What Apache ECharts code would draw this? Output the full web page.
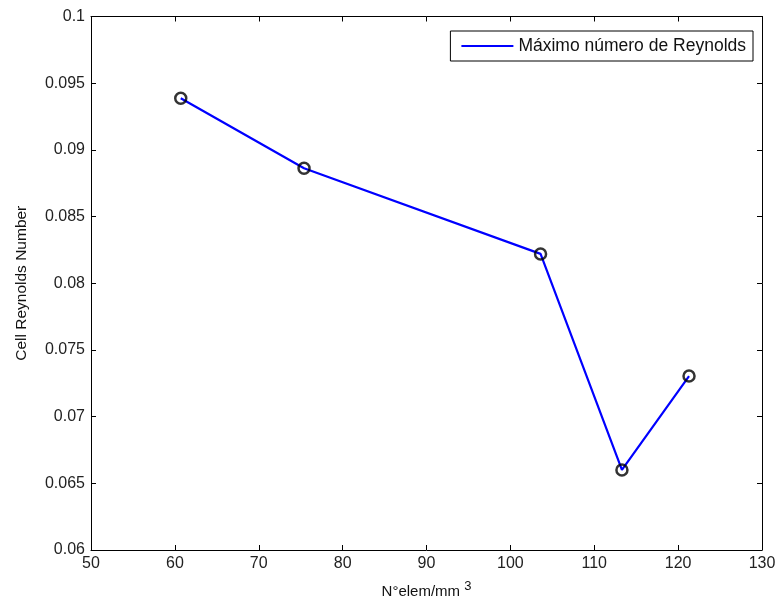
<!DOCTYPE html>
<html>
<head>
<meta charset="utf-8">
<script src="https://cdn.jsdelivr.net/npm/echarts@6/dist/echarts.min.js"></script>
<style>
  html, body { margin: 0; padding: 0; background: #fff; }
  #chart { width: 780px; height: 606px; }
</style>
</head>
<body>
<div id="chart"></div>
<script>
// elementos por mm^3 y numero de Reynolds de celda
const elemDensity = [60.7, 75.4, 103.6, 113.3, 121.3];
const reynolds = [0.09387, 0.08862, 0.0822, 0.066, 0.07304];
const seriesName = "Máximo número de Reynolds";
const xTicks = { min: 50, max: 130, step: 10 };
const yTicks = { min: 0.06, max: 0.1, step: 0.005 };

const points = elemDensity.map((x, i) => [x, reynolds[i]]);
const font = "Liberation Sans, Arial, sans-serif";

const chart = echarts.init(document.getElementById("chart"));

// eje comun estilo matlab: marcas hacia dentro
function axisBase(extra) {
  return Object.assign({
    type: "value",
    axisLine: { show: true, onZero: false, lineStyle: { color: "#000", width: 1 } },
    axisTick: { show: true, inside: true, length: 5, lineStyle: { color: "#000" } },
    splitLine: { show: false },
    axisLabel: { color: "#222", fontSize: 16, fontFamily: font }
  }, extra);
}

const option = {
  animation: false,
  backgroundColor: "#fff",
  grid: { left: 91, right: 18, top: 16.5, bottom: 56, containLabel: false },
  legend: {
    right: 27,
    top: 31,
    padding: [6, 7, 6, 11],
    borderColor: "#000",
    borderWidth: 1,
    itemWidth: 52,
    itemHeight: 2,
    itemGap: 6,
    textStyle: { color: "#111", fontSize: 17.5, fontFamily: font },
    data: [{ name: seriesName, icon: "rect", itemStyle: { color: "#0000ff", borderWidth: 0 } }]
  },
  xAxis: [
    axisBase({
      min: xTicks.min, max: xTicks.max, interval: xTicks.step,
      position: "bottom",
      axisLabel: { color: "#222", fontSize: 16, fontFamily: font, margin: 6 },
      name: "{a|N°elem/mm }{s|3}",
      nameLocation: "middle",
      nameGap: 30,
      nameTextStyle: {
        rich: {
          a: { fontSize: 15, color: "#111", fontFamily: font },
          s: { fontSize: 13, color: "#111", fontFamily: font, verticalAlign: "top", padding: [0, 0, 10, 0] }
        }
      }
    }),
    axisBase({
      min: xTicks.min, max: xTicks.max, interval: xTicks.step,
      position: "top",
      axisLabel: { show: false }
    })
  ],
  yAxis: [
    axisBase({
      min: yTicks.min, max: yTicks.max, interval: yTicks.step,
      position: "left",
      axisLabel: {
        color: "#222", fontSize: 16, fontFamily: font, margin: 6,
        formatter: (v) => String(parseFloat(v.toFixed(4)))
      },
      name: "Cell Reynolds Number",
      nameLocation: "middle",
      nameGap: 61,
      nameTextStyle: { fontSize: 15.5, color: "#111", fontFamily: font }
    }),
    axisBase({
      min: yTicks.min, max: yTicks.max, interval: yTicks.step,
      position: "right",
      axisLabel: { show: false }
    })
  ],
  series: [
    {
      name: seriesName,
      type: "line",
      data: points,
      symbol: "none",
      lineStyle: { color: "#0000ff", width: 2.2 },
      itemStyle: { color: "#0000ff" },
      z: 2
    },
    {
      name: "marcadores",
      type: "scatter",
      data: points,
      symbol: "circle",
      symbolSize: 11,
      itemStyle: { color: "rgba(0,0,0,0)", borderColor: "#000", borderWidth: 2.5 },
      z: 3
    }
  ]
};

chart.setOption(option);
</script>
</body>
</html>
